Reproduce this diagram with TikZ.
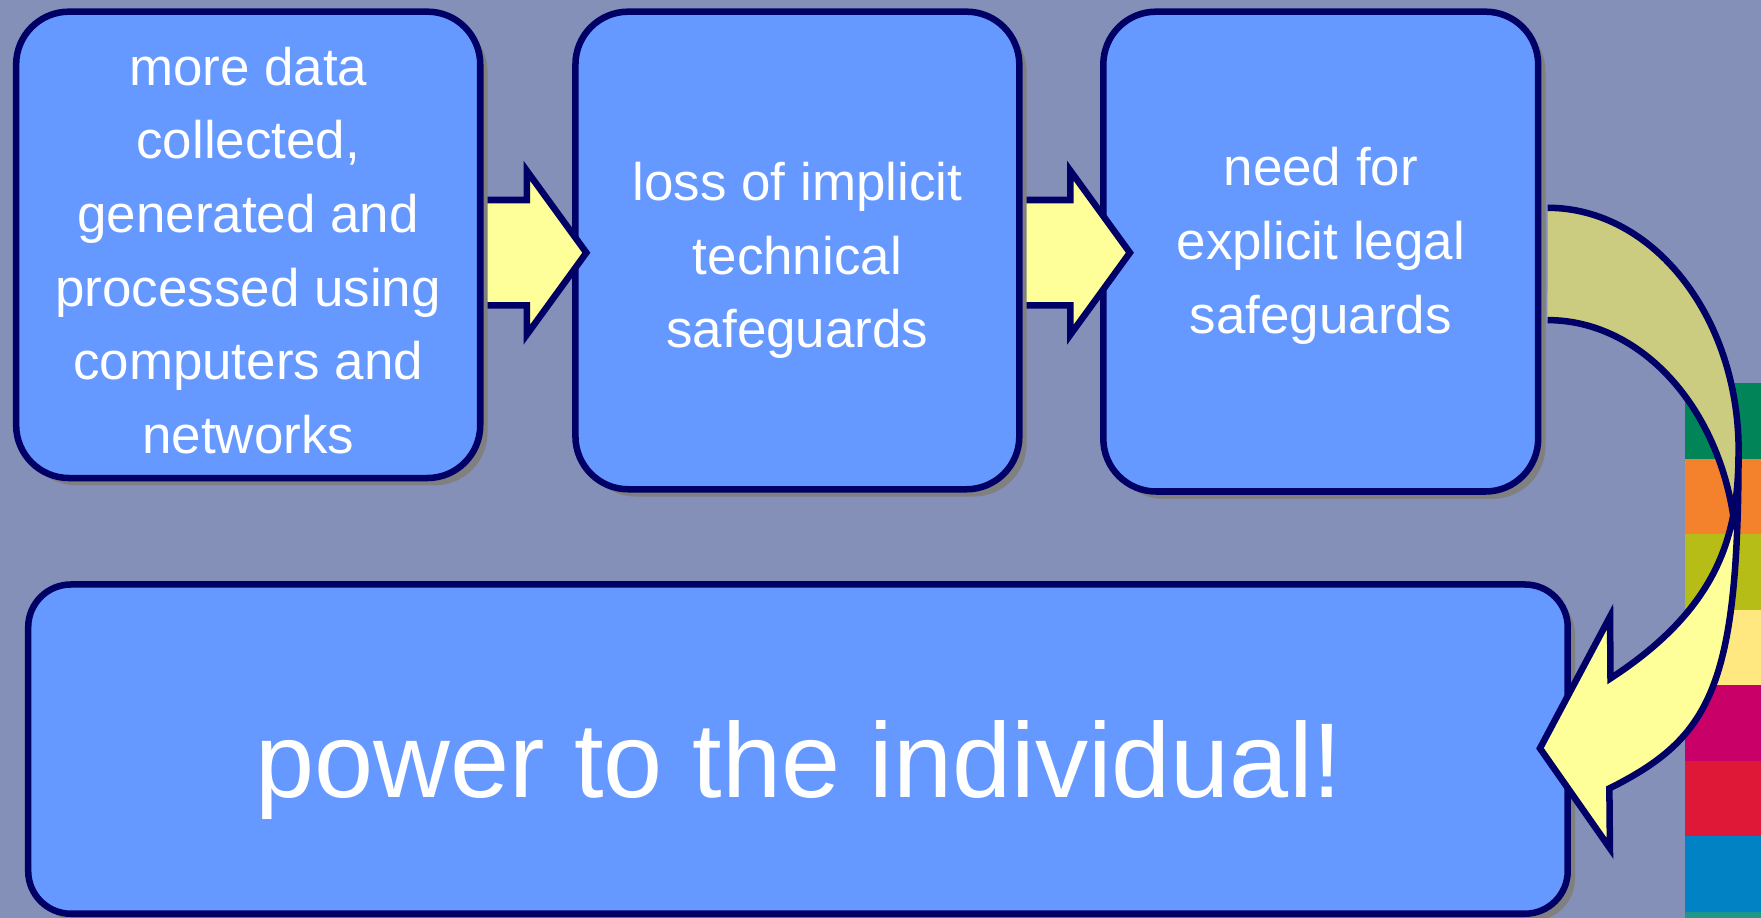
\documentclass[tikz,border=0pt]{standalone}
\usepackage{fontspec}
\setmainfont{Liberation Sans}
\usetikzlibrary{shapes.arrows,shadows}
\definecolor{fons}{RGB}{132,144,184}
\definecolor{caixa}{RGB}{102,153,255}
\definecolor{vora}{RGB}{0,0,102}
\definecolor{groc}{RGB}{255,255,153}
\definecolor{oliva}{RGB}{204,204,128}
\definecolor{ombra}{RGB}{128,128,128}
\definecolor{franjaA}{RGB}{0,132,88}
\definecolor{franjaB}{RGB}{244,130,44}
\definecolor{franjaC}{RGB}{182,189,22}
\definecolor{franjaD}{RGB}{255,232,128}
\definecolor{franjaE}{RGB}{200,0,104}
\definecolor{franjaF}{RGB}{224,24,56}
\definecolor{franjaG}{RGB}{0,130,196}
\definecolor{franjaH}{RGB}{30,150,140}
\tikzset{
    Caixa/.style={draw=vora, line width=1.65pt, fill=caixa, rectangle, rounded corners=.47cm, inner sep=0pt, drop shadow={fill=ombra, opacity=1, shadow xshift=.065cm, shadow yshift=-.065cm}},
    Text/.style={text=white, align=center, inner sep=0pt, font=\fontsize{13.4}{18.66}\selectfont},
    Gran/.style={text=white, inner sep=0pt, font=\fontsize{26.9}{32}\selectfont},
    Fletxa/.style={single arrow, draw=vora, line width=1.65pt, fill=groc, inner xsep=0pt, inner ysep=.44cm, outer sep=0pt, anchor=west, single arrow head extend=.26cm, single arrow tip angle=108},
    Corba/.style={draw=vora, line width=1.65pt}
    }
\begin{document}
\begin{tikzpicture}[x=0.01cm, y=0.01cm]
\useasboundingbox (0,0) rectangle (1568,-817);
\fill[fons] (0,0) rectangle (1568,-817);

% colour strip on the right
\foreach \c [count=\i from 0] in {franjaA,franjaB,franjaC,franjaD,franjaE,franjaF,franjaG,franjaH}
    \fill[\c] (1500,-341-67.3*\i) rectangle (1568,-341-67.3*\i-67.3);

\node[Caixa, minimum width=3.87cm, minimum height=4.27cm] (Necessitat) at (1176,-224) {};
\node[Text] (NecessitatText) at ([yshift=.05cm]Necessitat.center) {need for\\explicit legal\\safeguards};
\node[Fletxa, minimum height=1.26cm] (Fletxa2) at (880,-225) {};
\node[Caixa, minimum width=3.95cm, minimum height=4.25cm] (Perdua) at (710,-223) {};
\node[Text] (PerduaText) at ([yshift=-.09cm]Perdua.center) {loss of implicit\\technical\\safeguards};
\node[Fletxa, minimum height=1.22cm] (Fletxa1) at (400,-225) {};
\node[Caixa, minimum width=4.13cm, minimum height=4.15cm] (Dades) at (221,-218) {};
\node[Text] (DadesText) at ([yshift=-.05cm]Dades.center) {more data\\collected,\\generated and\\processed using\\computers and\\networks};

\node[Caixa, rounded corners=.38cm, minimum width=13.7cm, minimum height=2.93cm] (Poder) at (710.5,-667) {};
\node[Gran] (PoderText) at ([xshift=.01cm, yshift=-.19cm]Poder.center) {power to the individual!};

% curved arrow from Necessitat down to Poder
\coordinate (CorbaDalt) at (1378,-185);
\coordinate (CorbaBaix) at (1378,-285);
\coordinate (CorbaDreta) at (1548,-401.5);
\fill[oliva] (CorbaDalt) arc[start angle=90, end angle=0, x radius=1.7cm, y radius=2.165cm]
    -- (1543.9,-463.9) arc[start angle=10, end angle=90, x radius=1.685cm, y radius=2.165cm] -- cycle;
\draw[Corba] (CorbaDalt) arc[start angle=90, end angle=0, x radius=1.7cm, y radius=2.165cm];
\draw[Corba] (CorbaBaix) arc[start angle=90, end angle=10, x radius=1.685cm, y radius=2.165cm];
\filldraw[Corba, fill=groc] (CorbaDreta) .. controls (1548,-611.5) and (1523,-657) .. (1433,-702)
    -- (1433.5,-755.3) -- (1371.2,-666.3) -- (1433.6,-549) -- (1434,-604)
    .. controls (1534,-539) and (1548,-471.5) .. (CorbaDreta) -- cycle;
\end{tikzpicture}
\end{document}
